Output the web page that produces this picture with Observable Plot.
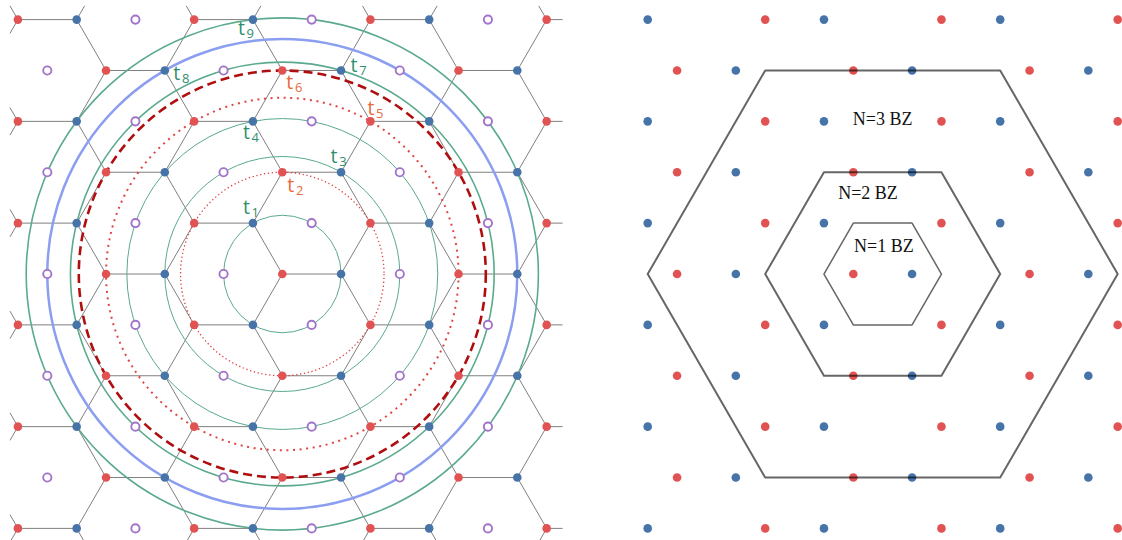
<!DOCTYPE html>
<html>
<head>
<meta charset="utf-8">
<script src="https://cdn.jsdelivr.net/npm/d3@7"></script>
<script src="https://cdn.jsdelivr.net/npm/@observablehq/plot@0.6"></script>
<style>
  body { margin: 0; background: #fff; }
  #fig { display: flex; width: 1122px; height: 540px; overflow: hidden; }
  #fig svg { display: block; flex: none; }
</style>
</head>
<body>
<div id="fig"></div>
<script>
// ---------- data ----------
// lattice rows (in units of the row index j) and the half-widths of each panel (units of a)
const rowIndex = d3.range(-5, 6);
const colIndex = d3.range(-14, 15);
const realHalfWidth = 4.5;
const recipHalfWidth = 4;

// sublattice order: 0 = A (red), 1 = B (blue), 2 = vacancy (open purple)
const siteKinds = ["A", "B", "V"];

// hopping shells around the central A site (radius in units of a)
const shellNames  = ["1", "2", "3", "4", "5", "6", "7", "8", "9"];
const shellRadius = [1, 1.732, 2, 2.646, 3, 3.464, 3.606, 4, 4.359];
const shellStyle  = ["green", "redFine", "green", "green", "redDot", "redDash", "greenBold", "blue", "greenBold"];
// the site each shell label sits beside (units of a)
const shellSiteX  = [-0.5, 0, 1, -0.5, 1.5, 0, 1, -2, -0.5];
const shellSiteY  = [0.866, 1.732, 1.732, 2.598, 2.598, 3.464, 3.464, 3.464, 4.330];

// Brillouin zones drawn on the reciprocal panel (circumradius in units of a)
const zoneNames  = ["N=1 BZ", "N=2 BZ", "N=3 BZ"];
const zoneRadius = [1, 2, 4];
const zoneLabelX = [0.02, -0.25, 0];
const zoneLabelY = [0.38, 1.28, 2.54];

// ---------- geometry helpers ----------
const A = 58.75;           // pixels per lattice spacing
const H = 540;
const CY = 273.5;          // vertical centre in pixels
const S3 = Math.sqrt(3) / 2;
const sub = (i, j) => ((i - j) % 3 + 3) % 3;

const realSites = [];
for (const j of rowIndex) for (const i of colIndex) {
  const x = i + j / 2;
  if (Math.abs(x) <= realHalfWidth + 1e-9) realSites.push({i, j, x, y: j * S3, kind: siteKinds[sub(i, j)]});
}
const inReal = (i, j) => Math.abs(j) <= 5 && Math.abs(i + j / 2) <= realHalfWidth + 1e-9;

// honeycomb bonds between A and B; bonds leaving the panel are drawn as short stubs
const STUB = 0.27;
const bonds = [];
const nbrA = [[1, 0], [-1, 1], [0, -1]];
const nbrB = [[-1, 0], [1, -1], [0, 1]];
for (const s of realSites) {
  if (s.kind === "V") continue;
  const nb = s.kind === "A" ? nbrA : nbrB;
  for (const [di, dj] of nb) {
    const ni = s.i + di, nj = s.j + dj;
    const nx = ni + nj / 2, ny = nj * S3;
    if (inReal(ni, nj)) {
      if (s.kind === "A") bonds.push({x1: s.x, y1: s.y, x2: nx, y2: ny});
    } else {
      bonds.push({x1: s.x, y1: s.y, x2: s.x + (nx - s.x) * STUB, y2: s.y + (ny - s.y) * STUB});
    }
  }
}

const recipSites = [];
for (const j of rowIndex) for (const i of colIndex) {
  const k = sub(i, j);
  const x = i + j / 2 - 0.5;
  if (k !== 2 && Math.abs(x) <= recipHalfWidth + 1e-9) recipSites.push({x, y: j * S3, kind: siteKinds[k]});
}

const zoneVerts = [];
zoneNames.forEach((name, k) => {
  for (let v = 0; v <= 6; v++) {
    const t = (v % 6) * Math.PI / 3;
    zoneVerts.push({zone: name, x: zoneRadius[k] * Math.cos(t), y: zoneRadius[k] * Math.sin(t)});
  }
});

const shells = shellNames.map((n, k) => ({name: n, r: shellRadius[k], style: shellStyle[k], sx: shellSiteX[k], sy: shellSiteY[k], cx: 0, cy: 0}));

// ---------- styles ----------
const RED = "#e15353", BLUE = "#4673a8", PURPLE = "#a173c9";
const GREEN = "#5aaa8c", GREEN_TXT = "#2f8f6c", ORANGE_TXT = "#e8693c";
const DOT_R = 4.3;
const shellStroke = {
  green:     {stroke: GREEN, strokeWidth: 1},
  greenBold: {stroke: GREEN, strokeWidth: 1.6},
  redFine:   {stroke: "#e04040", strokeWidth: 1.3, strokeDasharray: "1.3,2.6"},
  redDot:    {stroke: "#e04545", strokeWidth: 2, strokeDasharray: "2,4.6"},
  redDash:   {stroke: "#b00e0e", strokeWidth: 2.6, strokeDasharray: "9,5"},
  blue:      {stroke: "#8b9ef0", strokeWidth: 2.5}
};
// label offsets (px) from the labelled site to the baseline-left of "t"
const labelOffset = [[-10, -9.5], [5, 19.5], [-10.5, -9], [-10, 18], [-3, -6], [4, 18.5], [9.5, 1.5], [8.5, 10], [-15, 15.7]];
const labelColor = ["green", "orange", "green", "green", "orange", "orange", "green", "green", "green"];

// ---------- real-space panel ----------
const LW = 600, LCX = 281.8;
const left = Plot.plot({
  width: LW, height: H, margin: 0,
  x: {domain: [-LCX / A, (LW - LCX) / A], axis: null},
  y: {domain: [-(H - CY) / A, CY / A], axis: null},
  r: {type: "linear", domain: [0, 1], range: [0, A]},
  marks: [
    Plot.link(bonds, {x1: "x1", y1: "y1", x2: "x2", y2: "y2", stroke: "black", strokeOpacity: 0.5, strokeWidth: 1}),
    ...Object.entries(shellStroke).map(([key, st]) =>
      Plot.dot(shells.filter(d => d.style === key), {x: "cx", y: "cy", r: "r", fill: "none", ...st})),
    Plot.dot(realSites.filter(d => d.kind === "V"), {x: "x", y: "y", r: 4.1, fill: "white", stroke: PURPLE, strokeWidth: 1.9}),
    Plot.dot(realSites.filter(d => d.kind !== "V"), {x: "x", y: "y", r: DOT_R, fill: d => d.kind === "A" ? RED : BLUE}),
    ...shells.flatMap((d, k) => {
      const col = labelColor[k] === "green" ? GREEN_TXT : ORANGE_TXT;
      const [dx, dy] = labelOffset[k];
      return [
        Plot.text([d], {x: "sx", y: "sy", text: () => "t", dx, dy, fill: col, fontSize: 19.5,
          fontFamily: "Open Sans", textAnchor: "start", lineAnchor: "bottom"}),
        Plot.text([d], {x: "sx", y: "sy", text: "name", dx: dx + 8.6, dy: dy + 3, fill: col, fontSize: 13,
          fontFamily: "Open Sans", textAnchor: "start", lineAnchor: "bottom"})
      ];
    })
  ]
});

// ---------- reciprocal-space panel ----------
const RW = 522, RCX = 282.2;
const right = Plot.plot({
  width: RW, height: H, margin: 0,
  x: {domain: [-RCX / A, (RW - RCX) / A], axis: null},
  y: {domain: [-(H - CY) / A, CY / A], axis: null},
  marks: [
    Plot.dot(recipSites, {x: "x", y: "y", r: DOT_R, fill: d => d.kind === "A" ? RED : BLUE}),
    Plot.line(zoneVerts, {x: "x", y: "y", z: "zone", stroke: "black", strokeOpacity: 0.6,
      strokeWidth: d => d.zone === "N=1 BZ" ? 1.5 : 2}),
    Plot.text(zoneNames, {x: (d, k) => zoneLabelX[k], y: (d, k) => zoneLabelY[k], text: d => d,
      fontFamily: "Liberation Serif", fontSize: 18, fill: "#111", textAnchor: "middle", lineAnchor: "bottom"})
  ]
});

document.getElementById("fig").append(left, right);
</script>
</body>
</html>
